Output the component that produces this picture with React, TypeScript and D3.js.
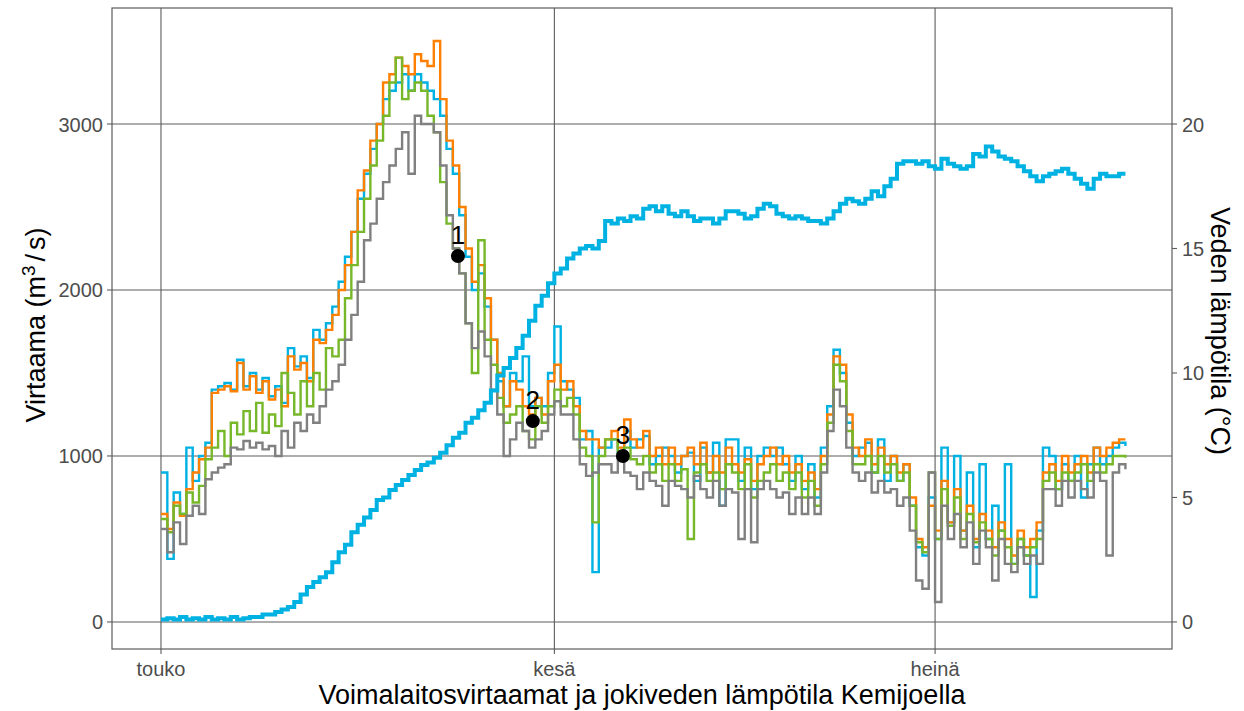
import React from "react";
import * as d3 from "d3";

// ---- data (day offsets from 1 May, 0.5-day steps) ----
const startDay = 0;
const stepDays = 0.5;

const flowBlue = [
  900, 380, 780, 650, 1050, 850, 1000, 1080, 1400, 1420,
  1440, 1400, 1580, 1420, 1500, 1400, 1470, 1360, 1420, 1320,
  1650, 1540, 1600, 1470, 1760, 1700, 1800, 1900, 2050, 2200,
  2350, 2550, 2700, 2850, 3000, 3150, 3200, 3250, 3300, 3200,
  3300, 3250, 3200, 3150, 3050, 2850, 2700, 2450, 2200, 2000,
  2100, 1900, 1700, 1450, 1300, 1500, 1450, 1600, 1300, 1350,
  1300, 1500, 1780, 1450, 1400, 1350, 1100, 1150, 300, 1050,
  1050, 1100, 1000, 1150, 1050, 1100, 1120, 950, 1000, 1050,
  1000, 900, 1000, 1020, 850, 1050, 900, 1080, 700, 1100,
  1100, 850, 1050, 800, 1000, 1050, 1000, 1050, 950, 850,
  1000, 800, 950, 750, 1050, 1300, 1640, 1500, 1200, 1000,
  1050, 1080, 900, 1100, 850, 1000, 850, 950, 700, 450,
  400, 750, 500, 1050, 600, 1000, 550, 900, 450, 950,
  500, 700, 550, 950, 350, 500, 400, 150, 550, 1050,
  1000, 800, 950, 850, 1000, 750, 950, 1050, 950, 1000,
  1050, 1080, 1060,
];

const flowOrange = [
  650, 560, 720, 640, 800, 900, 980, 1050, 1380, 1400,
  1420, 1390, 1560, 1400, 1480, 1380, 1450, 1340, 1400, 1300,
  1600, 1520, 1560, 1450, 1700, 1680, 1760, 1850, 2000, 2150,
  2350, 2600, 2720, 2900, 3000, 3250, 3300, 3400, 3350, 3300,
  3420, 3380, 3350, 3500, 3150, 2900, 2750, 2500, 2250, 2050,
  2150, 1950, 1700, 1500, 1300, 1450, 1400, 1300, 1250, 1350,
  1250, 1450, 1550, 1400, 1450, 1300, 1150, 1100, 1100, 1050,
  1100, 1150, 1050, 1220, 1100, 1050, 1150, 1000, 1050, 950,
  1050, 950, 1000, 1050, 950, 1080, 900, 1000, 900, 1050,
  950, 900, 980, 850, 950, 1000, 1050, 950, 1000, 900,
  950, 850, 900, 800, 1000, 1250, 1600, 1550, 1250, 1050,
  1000, 1100, 950, 1050, 950, 1000, 900, 950, 750, 500,
  450, 700, 550, 850, 600, 800, 550, 700, 500, 650,
  550, 450, 600, 500, 400, 550, 450, 500, 600, 900,
  950, 850, 1000, 900, 950, 1000, 900, 1050, 1000, 1050,
  1080, 1100, 1100,
];

const flowGreen = [
  620, 540, 700, 650, 780, 720, 820, 980, 1050, 1150,
  1000, 1200, 1130, 1270, 1150, 1320, 1140, 1250, 1180, 1500,
  1380, 1250, 1450, 1300, 1500, 1400, 1650, 1600, 1700, 1950,
  2150, 2350, 2550, 2750, 2900, 3050, 3250, 3400, 3150, 3200,
  3250, 3200, 3050, 2950, 2650, 2400, 2250, 2100, 1800, 1500,
  2300, 1700, 1550, 1350, 1200, 1250, 1300, 1150, 1100, 1300,
  1200, 1300, 1400, 1300, 1350, 1250, 1050, 1000, 600, 1000,
  1100, 1100, 1000, 1050, 980, 950, 1000, 900, 950, 850,
  950, 850, 920, 500, 900, 950, 850, 900, 800, 950,
  900, 800, 950, 750, 850, 900, 950, 850, 900, 800,
  900, 750, 850, 700, 950, 1200, 1550, 1450, 1150, 950,
  950, 1000, 900, 1000, 900, 950, 850, 900, 700, 480,
  420, 900, 500, 800, 580, 750, 500, 650, 480, 600,
  500, 400, 550, 450, 350, 500, 400, 450, 500, 850,
  900, 800, 900, 850, 900, 950, 850, 950, 900, 950,
  1000, 1000, 990,
];

const flowGray = [
  560, 420, 600, 470, 640, 700, 650, 860, 900, 930,
  950, 1050, 1040, 1090, 1050, 1080, 1040, 1060, 1000, 1150,
  1050, 1200, 1150, 1250, 1200, 1300, 1400, 1450, 1550, 1700,
  1850, 2050, 2300, 2400, 2550, 2650, 2750, 2850, 2950, 2700,
  3050, 3000, 3000, 2950, 2750, 2450, 2250, 2100, 1800, 1650,
  1750, 1600, 1400, 1250, 1000, 1100, 1200, 1150, 1050, 1100,
  1150, 1250, 1330, 1250, 1250, 1100, 950, 880, 900, 950,
  950, 900, 1000, 900, 880, 800, 900, 850, 820, 700,
  850, 820, 800, 750, 880, 800, 750, 850, 700, 800,
  780, 500, 800, 480, 800, 850, 800, 750, 780, 650,
  750, 650, 750, 650, 900, 1150, 1400, 1300, 1050, 900,
  850, 900, 780, 850, 780, 800, 700, 750, 550, 250,
  200, 900, 120, 700, 500, 650, 450, 600, 350, 550,
  450, 250, 500, 350, 300, 450, 350, 400, 350, 800,
  800, 700, 850, 750, 850, 800, 750, 900, 850, 400,
  900, 950, 920,
];

const waterTemp = [
  0.1, 0.15, 0.1, 0.2, 0.1, 0.15, 0.1, 0.2, 0.1, 0.15,
  0.1, 0.2, 0.1, 0.15, 0.2, 0.2, 0.3, 0.3, 0.4, 0.5,
  0.6, 0.8, 1.1, 1.4, 1.6, 1.8, 2.0, 2.4, 2.8, 3.1,
  3.6, 3.9, 4.2, 4.5, 4.9, 5.0, 5.3, 5.5, 5.7, 5.9,
  6.1, 6.3, 6.4, 6.6, 6.8, 7.1, 7.4, 7.6, 8.0, 8.2,
  8.5, 8.8, 9.3, 9.9, 10.2, 10.6, 11.0, 11.5, 12.1, 12.7,
  13.1, 13.6, 14.0, 14.2, 14.6, 14.8, 15.0, 15.1, 15.0, 15.3,
  16.1, 16.0, 16.2, 16.1, 16.3, 16.2, 16.6, 16.7, 16.5, 16.7,
  16.4, 16.3, 16.5, 16.3, 16.1, 16.2, 16.2, 16.0, 16.2, 16.5,
  16.5, 16.4, 16.2, 16.3, 16.6, 16.8, 16.7, 16.4, 16.3, 16.2,
  16.3, 16.2, 16.1, 16.1, 16.0, 16.2, 16.5, 16.8, 17.0, 16.9,
  16.8, 17.0, 17.3, 17.1, 17.5, 17.8, 18.4, 18.5, 18.5, 18.4,
  18.5, 18.3, 18.2, 18.6, 18.4, 18.3, 18.2, 18.3, 18.8, 18.7,
  19.1, 18.9, 18.7, 18.6, 18.5, 18.3, 18.1, 17.9, 17.7, 17.9,
  18.0, 18.1, 18.2, 18.0, 17.8, 17.6, 17.4, 17.8, 18.0, 17.9,
  17.9, 18.0, 18.0,
];

const markerLabels = ["1", "2", "3"];
const markerDays = [23.4, 29.3, 36.4];
const markerFlows = [2205, 1210, 1000];

const monthTickDays = [0, 31, 61];
const monthTickLabels = ["touko", "kesä", "heinä"];
const flowTicks = [0, 1000, 2000, 3000];
const tempTicks = [0, 5, 10, 15, 20];

const xTitle = "Voimalaitosvirtaamat ja jokiveden lämpötila Kemijoella";
const rightTitle = "Veden lämpötila (°C)";

// ---- layout ----
const W = 1244;
const H = 711;
const L = 112;
const R = 1172;
const T = 8;
const B = 649;

const FONT = "'Liberation Sans', Arial, Helvetica, sans-serif";
const GRID = "#5c5c5c";
const TICKTXT = "#4d4d4d";

const cBlue = "#00B2E2";
const cOrange = "#FF8000";
const cGreen = "#77B72A";
const cGray = "#808080";

export default function App() {
  const x = d3.scaleLinear().domain([-3.86, 79.67]).range([L, R]);
  const y = d3.scaleLinear().domain([-163, 3699]).range([B, T]);
  const yT = d3.scaleLinear().domain([-163 / 150, 3699 / 150]).range([B, T]);

  const dayOf = (i: number) => startDay + i * stepDays;

  const flowLine = d3
    .line<number>()
    .x((_, i) => x(dayOf(i)))
    .y((v) => y(v))
    .curve(d3.curveStepAfter);

  const tempLine = d3
    .line<number>()
    .x((_, i) => x(dayOf(i)))
    .y((v) => yT(v))
    .curve(d3.curveStepAfter);

  const series = [
    { data: flowBlue, color: cBlue },
    { data: flowOrange, color: cOrange },
    { data: flowGreen, color: cGreen },
    { data: flowGray, color: cGray },
  ];

  return (
    <svg
      width={W}
      height={H}
      style={{ position: "absolute", left: 0, top: 0, background: "#fff" }}
      fontFamily={FONT}
    >
      <defs>
        <clipPath id="clip">
          <rect x={L} y={T} width={R - L} height={B - T} />
        </clipPath>
      </defs>
      <rect x={0} y={0} width={W} height={H} fill="#fff" />
      {/* grid */}
      {flowTicks.map((t) => (
        <line key={"hg" + t} x1={L} x2={R} y1={y(t)} y2={y(t)} stroke={GRID} strokeWidth={1.1} />
      ))}
      {monthTickDays.map((d) => (
        <line key={"vg" + d} x1={x(d)} x2={x(d)} y1={T} y2={B} stroke={GRID} strokeWidth={1.1} />
      ))}

      {/* flows */}
      <g clipPath="url(#clip)">
        {series.map((s, k) => (
          <path
            key={k}
            d={flowLine(s.data) || ""}
            fill="none"
            stroke={s.color}
            strokeWidth={2.4}
          />
        ))}
        <path d={tempLine(waterTemp) || ""} fill="none" stroke={cBlue} strokeWidth={4} />
      </g>

      {/* markers */}
      {markerDays.map((d, i) => (
        <g key={"m" + i}>
          <circle cx={x(d)} cy={y(markerFlows[i])} r={7} fill="#000" />
          <text
            x={x(d)}
            y={y(markerFlows[i]) - 12}
            fontSize={26}
            textAnchor="middle"
            fill="#000"
          >
            {markerLabels[i]}
          </text>
        </g>
      ))}

      {/* panel border */}
      <rect x={L} y={T} width={R - L} height={B - T} fill="none" stroke={GRID} strokeWidth={1.2} />

      {/* left axis */}
      {flowTicks.map((t) => (
        <g key={"lt" + t}>
          <line x1={L - 5} x2={L} y1={y(t)} y2={y(t)} stroke={GRID} strokeWidth={1.1} />
          <text x={L - 9} y={y(t) + 7.5} fontSize={20} textAnchor="end" fill={TICKTXT}>
            {t}
          </text>
        </g>
      ))}
      {/* right axis */}
      {tempTicks.map((t) => (
        <g key={"rt" + t}>
          <line x1={R} x2={R + 5} y1={yT(t)} y2={yT(t)} stroke={GRID} strokeWidth={1.1} />
          <text x={R + 10} y={yT(t) + 7.5} fontSize={20} textAnchor="start" fill={TICKTXT}>
            {t}
          </text>
        </g>
      ))}
      {/* bottom axis */}
      {monthTickDays.map((d, i) => (
        <g key={"bt" + d}>
          <line x1={x(d)} x2={x(d)} y1={B} y2={B + 5} stroke={GRID} strokeWidth={1.1} />
          <text x={x(d)} y={B + 27} fontSize={20} textAnchor="middle" fill={TICKTXT}>
            {monthTickLabels[i]}
          </text>
        </g>
      ))}

      {/* titles */}
      <text x={(L + R) / 2} y={704} fontSize={27} textAnchor="middle" fill="#000">
        {xTitle}
      </text>
      <text
        transform={`translate(45, 325) rotate(-90)`}
        fontSize={27}
        textAnchor="middle"
        fill="#000"
      >
        Virtaama (m<tspan dy={-10} fontSize={19}>3</tspan>
        <tspan dy={10} dx={4}>/</tspan>
        <tspan dx={4}>s)</tspan>
      </text>
      <text
        transform={`translate(1211, 331) rotate(90)`}
        fontSize={27}
        textAnchor="middle"
        fill="#000"
      >
        {rightTitle}
      </text>
    </svg>
  );
}
